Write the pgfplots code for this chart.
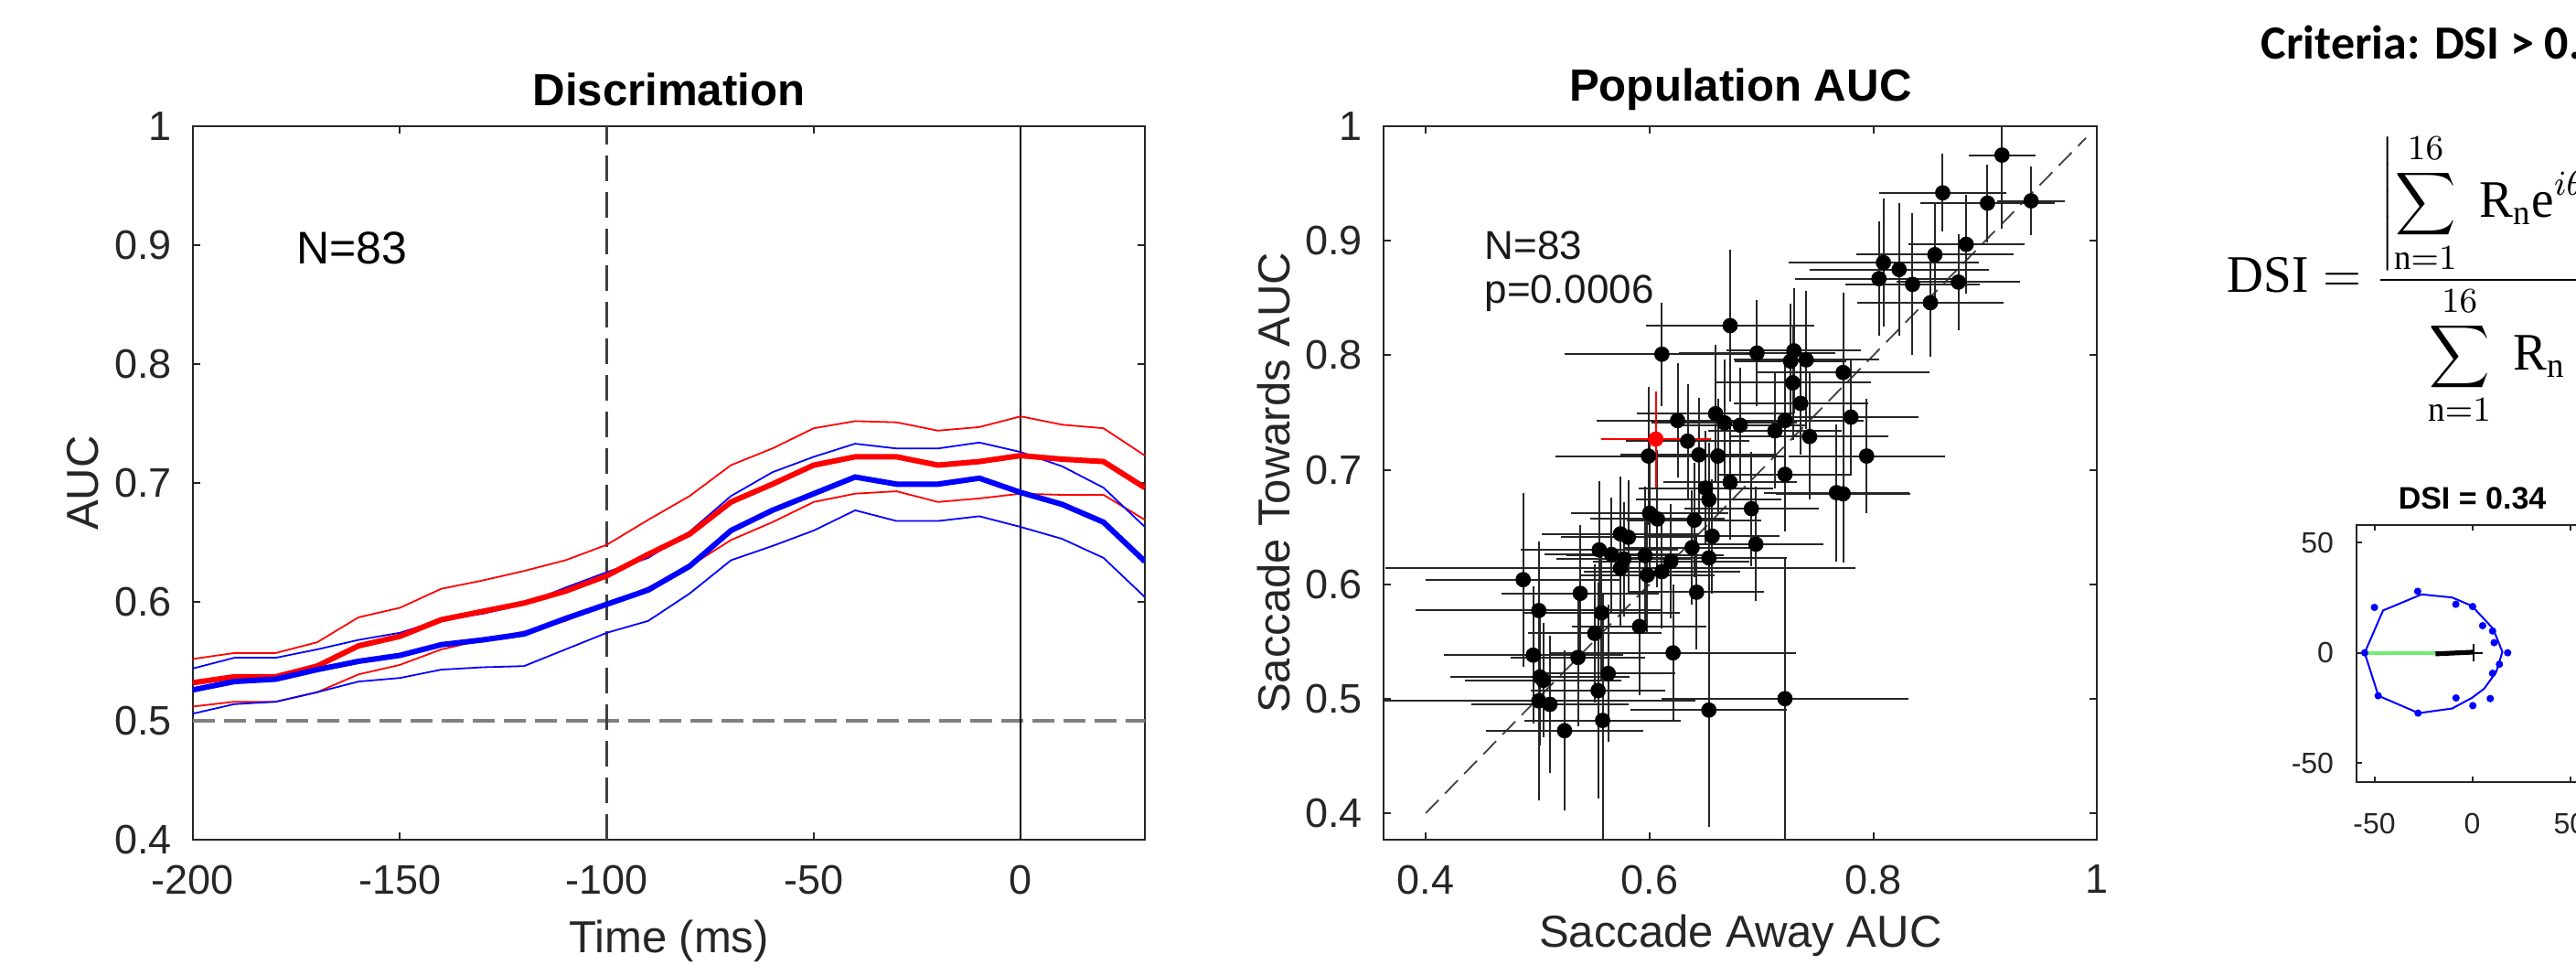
\documentclass[border=0pt]{standalone}
\usepackage{fontspec}
\setmainfont{Liberation Serif}
\setsansfont{Liberation Sans}
\newfontfamily\calibri{Carlito}
\usepackage{graphicx}
\usepackage{pgfplots}
\usepackage{pgfplotstable}
\pgfplotsset{compat=1.18}
\definecolor{dsigreen}{rgb}{0.45,0.92,0.45}

\pgfplotstableread{
t rm ru rl bm bu bl
-200 0.532 0.552 0.512 0.526 0.544 0.506
-190 0.537 0.557 0.516 0.533 0.553 0.514
-180 0.537 0.557 0.516 0.535 0.553 0.516
-170 0.546 0.566 0.524 0.543 0.560 0.524
-160 0.563 0.587 0.539 0.550 0.568 0.533
-150 0.571 0.595 0.547 0.555 0.574 0.536
-140 0.585 0.611 0.560 0.564 0.585 0.543
-130 0.592 0.618 0.568 0.568 0.590 0.545
-120 0.599 0.626 0.575 0.573 0.598 0.546
-110 0.609 0.635 0.584 0.586 0.612 0.560
-100 0.622 0.648 0.598 0.598 0.625 0.574
-90 0.640 0.669 0.612 0.610 0.637 0.584
-80 0.657 0.689 0.630 0.630 0.659 0.607
-70 0.684 0.715 0.652 0.660 0.689 0.635
-60 0.699 0.729 0.667 0.677 0.709 0.647
-50 0.715 0.746 0.684 0.691 0.722 0.660
-40 0.722 0.752 0.691 0.705 0.733 0.677
-30 0.722 0.751 0.693 0.699 0.729 0.668
-20 0.715 0.744 0.684 0.699 0.729 0.668
-10 0.718 0.747 0.687 0.704 0.734 0.672
0 0.723 0.756 0.691 0.692 0.726 0.663
10 0.720 0.749 0.690 0.682 0.714 0.653
20 0.718 0.746 0.690 0.667 0.696 0.637
30 0.696 0.723 0.669 0.634 0.663 0.604
}\disc

\pgfplotstableread{
x y ex ey
0.915 0.975 0.030 0.064
0.862 0.942 0.057 0.034
0.902 0.933 0.060 0.034
0.941 0.935 0.030 0.030
0.883 0.897 0.052 0.043
0.855 0.888 0.070 0.045
0.809 0.881 0.085 0.056
0.823 0.875 0.080 0.058
0.805 0.867 0.075 0.050
0.835 0.862 0.060 0.062
0.876 0.864 0.055 0.042
0.851 0.846 0.065 0.047
0.672 0.826 0.075 0.066
0.696 0.802 0.070 0.046
0.611 0.801 0.087 0.045
0.729 0.804 0.060 0.055
0.740 0.796 0.065 0.060
0.726 0.795 0.050 0.050
0.773 0.785 0.077 0.070
0.728 0.776 0.070 0.050
0.735 0.758 0.060 0.045
0.780 0.746 0.060 0.050
0.659 0.749 0.070 0.060
0.667 0.741 0.065 0.055
0.681 0.739 0.060 0.050
0.721 0.743 0.070 0.050
0.712 0.734 0.060 0.050
0.743 0.729 0.070 0.055
0.794 0.712 0.070 0.050
0.721 0.696 0.060 0.050
0.672 0.689 0.060 0.050
0.767 0.680 0.065 0.060
0.773 0.679 0.060 0.060
0.691 0.666 0.060 0.050
0.644 0.713 0.070 0.050
0.661 0.712 0.060 0.050
0.650 0.684 0.060 0.050
0.653 0.674 0.065 0.050
0.625 0.743 0.072 0.050
0.634 0.725 0.055 0.050
0.599 0.712 0.083 0.060
0.487 0.604 0.087 0.076
0.538 0.592 0.070 0.060
0.501 0.577 0.110 0.060
0.557 0.575 0.070 0.060
0.551 0.557 0.060 0.060
0.591 0.563 0.060 0.060
0.496 0.538 0.080 0.060
0.536 0.536 0.060 0.060
0.621 0.540 0.110 0.060
0.502 0.519 0.080 0.060
0.505 0.516 0.070 0.050
0.563 0.522 0.060 0.060
0.554 0.507 0.060 0.094
0.501 0.498 0.140 0.087
0.511 0.495 0.070 0.060
0.558 0.481 0.070 0.110
0.524 0.472 0.070 0.070
0.653 0.490 0.070 0.102
0.721 0.500 0.110 0.123
0.600 0.662 0.070 0.060
0.607 0.657 0.060 0.060
0.574 0.644 0.070 0.050
0.581 0.641 0.060 0.050
0.555 0.630 0.070 0.060
0.566 0.626 0.060 0.050
0.577 0.622 0.060 0.050
0.574 0.614 0.210 0.050
0.596 0.625 0.070 0.060
0.598 0.608 0.060 0.050
0.611 0.611 0.070 0.050
0.619 0.620 0.070 0.050
0.640 0.656 0.060 0.050
0.638 0.632 0.060 0.050
0.653 0.623 0.070 0.060
0.656 0.642 0.060 0.050
0.642 0.593 0.060 0.050
0.695 0.635 0.060 0.050
}\scat

\pgfplotstableread{
x y ex ey
0.6056 0.7268 0.049 0.042
}\scatred

\pgfplotstableread{
x y
-50.0 20.6
-27.9 27.9
-8.4 22.0
0.2 21.0
5.3 12.3
10.4 9.9
11.2 4.6
18.1 0.0
13.9 -5.2
10.4 -9.3
9.2 -20.8
0.3 -24.0
-8.3 -20.5
-27.7 -27.4
-48.1 -19.5
-55.0 0.0
}\dsipts

\pgfplotstableread{
x y
-55.0 0.0
-45.6 19.2
-25.9 26.5
-10.3 25.1
-0.2 21.3
10.7 10.9
15.4 0.4
12.3 -8.6
6.1 -16.3
-0.2 -20.5
-10.3 -25.3
-27.4 -27.4
-48.0 -19.5
-55.0 0.0
}\dsiline

\pgfplotsset{
  matlab/.style={
    scale only axis,
    axis line style={black!85, line width=0.5pt},
    tick style={black!85, line width=0.5pt},
    major tick length=2pt,
    tick label style={font=\sffamily\fontsize{11.25}{13}\selectfont, text=black!85},
    xticklabel style={yshift=-3.5pt},
    yticklabel style={xshift=-2.3pt},
    label style={font=\sffamily\fontsize{12.25}{14}\selectfont, text=black!85},
    title style={font=\sffamily\bfseries\fontsize{12.3}{14}\selectfont, text=black, anchor=center, yshift=-6pt},
  }
}

\begin{document}
\begin{tikzpicture}[x=1pt,y=1pt]
\useasboundingbox (0,0) rectangle (704.25,266.75);
\clip (0,0) rectangle (704.25,266.75);

% ---------------- Left: Discrimation ----------------
\begin{axis}[matlab,
  at={(52.75pt,37.25pt)}, anchor=south west,
  width=260.25pt, height=195pt,
  xmin=-200, xmax=30, ymin=0.4, ymax=1,
  xtick={-200,-150,-100,-50,0}, xticklabels={-200,-150,-100,-50,0},
  ytick={0.4,0.5,0.6,0.7,0.8,0.9,1}, yticklabels={0.4,0.5,0.6,0.7,0.8,0.9,1},
  title={Discrimation}, title style={at={(axis description cs:0.5,1.0513)}},
  xlabel={Time (ms)}, xlabel style={at={(axis description cs:0.5,-0.1423)}, anchor=center},
  ylabel={AUC}, ylabel style={at={(axis description cs:-0.1153,0.5)}, anchor=center},
]
\addplot[gray, line width=1pt, dash pattern=on 6pt off 2.5pt] coordinates {(-200,0.5) (30,0.5)};
\addplot[black!75, line width=0.6pt, dash pattern=on 7pt off 3pt] coordinates {(-100,0.4) (-100,1)};
\addplot[black, line width=0.5pt] coordinates {(0,0.4) (0,1)};
\addplot[red, line width=0.45pt] table[x=t, y=ru] {\disc};
\addplot[red, line width=0.45pt] table[x=t, y=rl] {\disc};
\addplot[blue, line width=0.45pt] table[x=t, y=bu] {\disc};
\addplot[blue, line width=0.45pt] table[x=t, y=bl] {\disc};
\addplot[red, line width=1.5pt] table[x=t, y=rm] {\disc};
\addplot[blue, line width=1.5pt] table[x=t, y=bm] {\disc};
\node[anchor=base west, inner sep=0, font=\sffamily\fontsize{12.5}{14}\selectfont] at (axis cs:-175.2,0.8846) {N=83};
\end{axis}

% ---------------- Middle: Population AUC ----------------
\begin{axis}[matlab,
  at={(378.33pt,37.33pt)}, anchor=south west,
  width=195pt, height=194.85pt,
  xmin=0.3625, xmax=1, ymin=0.377, ymax=1,
  xtick={0.4,0.6,0.8,1}, xticklabels={0.4,0.6,0.8,1},
  ytick={0.4,0.5,0.6,0.7,0.8,0.9,1}, yticklabels={0.4,0.5,0.6,0.7,0.8,0.9,1},
  title={Population AUC}, title style={at={(axis description cs:0.5,1.0513)}},
  xlabel={Saccade Away AUC}, xlabel style={at={(axis description cs:0.5,-0.135)}, anchor=center},
  ylabel={Saccade Towards AUC}, ylabel style={at={(axis description cs:-0.154,0.5)}, anchor=center},
]
\addplot[black!75, line width=0.45pt, dash pattern=on 5pt off 2.5pt] coordinates {(0.4,0.4) (0.99,0.99)};
\addplot[only marks, mark=*, mark size=1.9pt, black,
  error bars/.cd, x dir=both, x explicit, y dir=both, y explicit,
  error mark=none, error bar style={line width=0.5pt, black!85}]
  table[x=x, y=y, x error=ex, y error=ey] {\scat};
\addplot[only marks, mark=*, mark size=1.9pt, red,
  error bars/.cd, x dir=both, x explicit, y dir=both, y explicit,
  error mark=none, error bar style={line width=0.5pt, red}]
  table[x=x, y=y, x error=ex, y error=ey] {\scatred};
\node[anchor=base west, inner sep=0, font=\sffamily\fontsize{11}{13}\selectfont, text=black!90] at (axis cs:0.4521,0.8843) {N=83};
\node[anchor=base west, inner sep=0, font=\sffamily\fontsize{11}{13}\selectfont, text=black!90] at (axis cs:0.4521,0.8454) {p=0.0006};
\end{axis}

% ---------------- Right: DSI example ----------------
\begin{axis}[matlab,
  at={(644.33pt,53pt)}, anchor=south west,
  width=63.1pt, height=70.25pt,
  xmin=-59, xmax=59, ymin=-58.7, ymax=58,
  major tick length=1.5pt,
  xtick={-50,0,50}, xticklabels={-50,0,50},
  ytick={-50,0,50}, yticklabels={-50,0,50},
  tick label style={font=\sffamily\fontsize{8}{9}\selectfont, text=black!85},
  xticklabel style={yshift=-1.5pt},
  yticklabel style={xshift=-0.5pt},
  title={DSI = 0.34}, title style={font=\sffamily\bfseries\fontsize{8.5}{10}\selectfont, at={(axis description cs:0.5,1.103)}},
]
\addplot[blue, line width=0.5pt] table[x=x, y=y] {\dsiline};
\addplot[only marks, mark=*, mark size=0.8pt, blue] table[x=x, y=y] {\dsipts};
\addplot[dsigreen, line width=1pt] coordinates {(-55,0) (-18.8,0)};
\addplot[black, line width=1.3pt] coordinates {(-18.8,-0.5) (1,0.3)};
\addplot[black, only marks, mark=+, mark size=2.4pt, mark options={line width=0.5pt}] coordinates {(0.9,0)};
\end{axis}

% ---------------- Formula and criteria ----------------
\node[anchor=base west, inner sep=0] at (608.75,186.75)
  {\scalebox{1.15}[1.2]{\fontsize{12}{14}\selectfont
   $\displaystyle \mathrm{DSI} = \frac{\left|\displaystyle\sum_{\mathrm{n}=1}^{16}\;\mathrm{R}_{\mathrm{n}}\mathrm{e}^{i\theta_{\mathrm{n}}}\right|}{\displaystyle\sum_{\mathrm{n}=1}^{16}\;\mathrm{R}_{\mathrm{n}}}$}};
\node[anchor=base west, inner sep=0] at (618,250.6)
  {\calibri\bfseries\fontsize{13}{15}\selectfont Criteria: DSI > 0.};
\end{tikzpicture}
\end{document}
